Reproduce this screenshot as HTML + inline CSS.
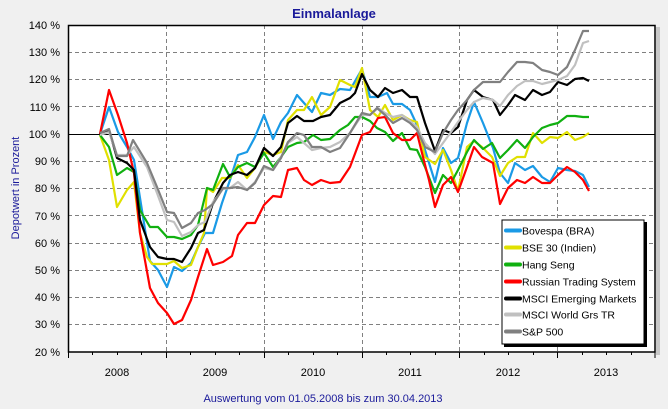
<!DOCTYPE html>
<html><head><meta charset="utf-8"><style>
html,body{margin:0;padding:0;background:#f0f0f0;}
svg{display:block;font-family:"Liberation Sans",sans-serif;}
</style></head><body>
<svg width="668" height="409" viewBox="0 0 668 409" xmlns="http://www.w3.org/2000/svg">
<rect width="668" height="409" fill="#f0f0f0"/>
<text x="334" y="18" text-anchor="middle" font-size="13" font-weight="bold" fill="#1a1a9a">Einmalanlage</text>
<rect x="656" y="27" width="4" height="328" fill="#c8c8c8"/>
<rect x="68" y="25" width="587" height="327" fill="#fff"/>
<g stroke="#808080" stroke-dasharray="4,3" stroke-width="1">
<line x1="68" x2="655" y1="52.5" y2="52.5"/><line x1="68" x2="655" y1="79.5" y2="79.5"/>
<line x1="68" x2="655" y1="106.5" y2="106.5"/><line x1="68" x2="655" y1="161.5" y2="161.5"/>
<line x1="68" x2="655" y1="188.5" y2="188.5"/><line x1="68" x2="655" y1="215.5" y2="215.5"/>
<line x1="68" x2="655" y1="243.5" y2="243.5"/><line x1="68" x2="655" y1="270.5" y2="270.5"/>
<line x1="68" x2="655" y1="297.5" y2="297.5"/><line x1="68" x2="655" y1="324.5" y2="324.5"/>
<line x1="166.5" x2="166.5" y1="25" y2="352"/><line x1="264.5" x2="264.5" y1="25" y2="352"/>
<line x1="362.5" x2="362.5" y1="25" y2="352"/><line x1="459.5" x2="459.5" y1="25" y2="352"/>
<line x1="557.5" x2="557.5" y1="25" y2="352"/>
</g>
<line x1="68" x2="655" y1="134.5" y2="134.5" stroke="#000"/>
<g fill="none" stroke-width="2.2" stroke-linejoin="round">
<polyline stroke="#1a9ae6" points="100,134 109,107 118,132 127,147 134,160 150,261 158,270 167,287 174,267 182,271 191,263 198,247 205,233 213,233 222,203 230,180 238,155 247,152 255,137 264,115 273,139 281,122 288,113 297,95 304,103 312,112 321,93 330,95 340,89 350,90 362,69 370,97 378,97 387,93 393,104 402,104 410,110 417,125 425,150 435,182 443,148 451,163 458,158 467,123 474,102 483,123 493,148 500,173 508,183 515,163 525,170 533,166 542,177 550,182 558,168 567,170 575,171 583,175 589,187"/>
<polyline stroke="#e0e000" points="100,135 109,160 117,207 127,190 134,182 140,233 147,257 152,264 167,264 174,261 182,268 191,265 198,247 204,233 207,188 213,192 222,178 230,178 238,165 247,178 255,168 264,152 273,155 281,152 288,120 297,110 304,110 312,97 321,115 330,107 340,80 350,85 355,87 362,68 370,110 378,117 385,105 393,120 402,115 410,120 417,122 425,157 435,164 443,150 451,170 458,191 467,147 474,141 482,147 492,157 500,176 508,163 517,157 525,157 533,133 542,143 550,137 558,138 567,132 575,140 583,137 589,133"/>
<polyline stroke="#10b010" points="100,135 109,147 117,175 127,168 134,172 140,210 150,227 158,227 167,237 174,237 182,239 191,235 198,225 207,188 213,190 223,164 230,177 238,167 247,163 255,167 264,153 273,167 281,157 288,147 297,143 304,142 313,135 321,140 330,139 340,130 348,125 355,117 362,117 370,121 377,128 385,132 393,141 402,133 410,149 417,150 425,167 435,193 443,175 451,183 458,170 467,152 474,140 483,149 492,143 500,158 508,150 517,140 525,148 533,137 542,128 550,125 558,123 567,116 575,116 583,117 589,117"/>
<polyline stroke="#ff0000" points="100,134 109,90 118,115 127,143 134,173 140,233 150,288 158,303 167,313 174,324 182,320 191,300 198,277 207,249 213,265 223,262 232,256 238,235 247,223 255,223 264,205 273,196 281,197 288,170 297,168 304,180 312,185 321,180 330,183 340,182 350,167 362,135 370,132 378,118 385,117 393,133 402,140 410,140 417,133 423,157 429,180 435,207 443,185 451,177 458,192 467,167 474,147 482,157 493,163 500,204 508,188 517,180 525,183 533,177 542,183 550,183 558,175 567,167 575,172 583,180 589,191"/>
<polyline stroke="#000" points="100,134 109,130 117,158 127,163 134,170 140,220 150,247 158,257 167,259 174,259 182,262 191,248 198,233 204,230 213,203 223,183 230,175 238,172 247,175 255,168 264,148 273,156 281,147 288,123 297,116 304,121 313,121 321,117 330,115 340,103 350,98 355,93 362,74 370,90 378,97 385,88 393,93 402,90 410,97 417,97 425,123 435,151 443,130 451,133 458,127 467,100 474,90 483,97 493,100 500,115 508,105 515,95 525,100 533,90 542,95 550,92 558,82 567,85 575,79 583,78 589,81"/>
<polyline stroke="#c0c0c0" points="100,135 109,132 117,155 127,155 134,147 147,167 157,193 167,220 174,222 182,236 191,232 198,225 205,222 213,202 223,189 230,188 238,182 247,190 255,182 264,168 273,170 281,157 288,143 297,137 304,143 312,150 321,148 330,147 340,142 350,133 362,115 370,115 378,108 385,113 393,117 402,115 410,121 417,127 425,143 435,154 443,143 451,132 458,122 467,110 474,102 483,98 493,100 500,106 508,95 517,86 525,81 533,81 542,84 550,82 558,80 567,76 575,65 583,43 589,41"/>
<polyline stroke="#808080" points="100,133 109,129 117,156 127,156 133,140 147,163 157,187 167,212 174,213 182,228 191,223 198,213 205,210 213,204 223,188 230,188 238,187 247,190 255,183 264,166 273,170 281,158 288,142 297,133 304,135 312,147 321,147 330,152 340,148 350,133 362,113 370,115 377,108 385,115 393,123 402,118 410,123 417,130 425,147 435,152 443,133 451,120 458,110 467,100 474,90 483,82 493,82 500,82 508,72 517,62 525,62 533,63 542,70 550,72 558,75 567,67 575,50 583,31 589,31"/>
</g>
<rect x="68.5" y="25.5" width="586.5" height="326.5" fill="none" stroke="#000" stroke-width="1.5"/>
<g stroke="#000" stroke-width="1">
<line x1="68.5" x2="68.5" y1="352" y2="358"/><line x1="92.5" x2="92.5" y1="352" y2="355"/><line x1="117.5" x2="117.5" y1="352" y2="355"/><line x1="141.5" x2="141.5" y1="352" y2="355"/>
<line x1="166.5" x2="166.5" y1="352" y2="358"/><line x1="190.5" x2="190.5" y1="352" y2="355"/><line x1="215.5" x2="215.5" y1="352" y2="355"/><line x1="239.5" x2="239.5" y1="352" y2="355"/>
<line x1="264.5" x2="264.5" y1="352" y2="358"/><line x1="288.5" x2="288.5" y1="352" y2="355"/><line x1="313.5" x2="313.5" y1="352" y2="355"/><line x1="337.5" x2="337.5" y1="352" y2="355"/>
<line x1="362.5" x2="362.5" y1="352" y2="358"/><line x1="386.5" x2="386.5" y1="352" y2="355"/><line x1="410.5" x2="410.5" y1="352" y2="355"/><line x1="435.5" x2="435.5" y1="352" y2="355"/>
<line x1="459.5" x2="459.5" y1="352" y2="358"/><line x1="484.5" x2="484.5" y1="352" y2="355"/><line x1="508.5" x2="508.5" y1="352" y2="355"/><line x1="533.5" x2="533.5" y1="352" y2="355"/>
<line x1="557.5" x2="557.5" y1="352" y2="358"/><line x1="582.5" x2="582.5" y1="352" y2="355"/><line x1="606.5" x2="606.5" y1="352" y2="355"/><line x1="631.5" x2="631.5" y1="352" y2="355"/>
<line x1="655" x2="655" y1="352" y2="358"/>
</g>
<g font-size="11" fill="#000" text-anchor="end">
<text x="60" y="29">140 %</text><text x="60" y="56">130 %</text><text x="60" y="83">120 %</text>
<text x="60" y="111">110 %</text><text x="60" y="138">100 %</text><text x="60" y="165">90 %</text>
<text x="60" y="192">80 %</text><text x="60" y="220">70 %</text><text x="60" y="247">60 %</text>
<text x="60" y="274">50 %</text><text x="60" y="301">40 %</text><text x="60" y="328">30 %</text>
<text x="60" y="356">20 %</text>
</g>
<g font-size="11" fill="#000" text-anchor="middle">
<text x="117" y="376">2008</text><text x="215" y="376">2009</text><text x="313" y="376">2010</text>
<text x="410" y="376">2011</text><text x="508" y="376">2012</text><text x="606" y="376">2013</text>
</g>
<text transform="translate(19,188) rotate(-90)" text-anchor="middle" font-size="11" fill="#1a1a9a">Depotwert in Prozent</text>
<text x="323" y="402" text-anchor="middle" font-size="11" fill="#1a1a9a">Auswertung vom 01.05.2008 bis zum 30.04.2013</text>
<rect x="504" y="222" width="143" height="125" fill="#000"/>
<rect x="502" y="220" width="142" height="124" fill="#fff" stroke="#000" stroke-width="1"/>
<g stroke-width="4" stroke-linecap="round">
<line x1="506" x2="520" y1="230.5" y2="230.5" stroke="#1a9ae6"/>
<line x1="506" x2="520" y1="247.5" y2="247.5" stroke="#e0e000"/>
<line x1="506" x2="520" y1="264.5" y2="264.5" stroke="#10b010"/>
<line x1="506" x2="520" y1="281.5" y2="281.5" stroke="#ff0000"/>
<line x1="506" x2="520" y1="298.5" y2="298.5" stroke="#000"/>
<line x1="506" x2="520" y1="314.5" y2="314.5" stroke="#c0c0c0"/>
<line x1="506" x2="520" y1="331.5" y2="331.5" stroke="#808080"/>
</g>
<g font-size="10.5" fill="#000">
<text x="522" y="234.5">Bovespa (BRA)</text>
<text x="522" y="251.5">BSE 30 (Indien)</text>
<text x="522" y="268.5">Hang Seng</text>
<text x="522" y="285.5">Russian Trading System</text>
<text x="522" y="302.5">MSCI Emerging Markets</text>
<text x="522" y="318.5">MSCI World Grs TR</text>
<text x="522" y="335.5">S&amp;P 500</text>
</g>
</svg>
</body></html>
